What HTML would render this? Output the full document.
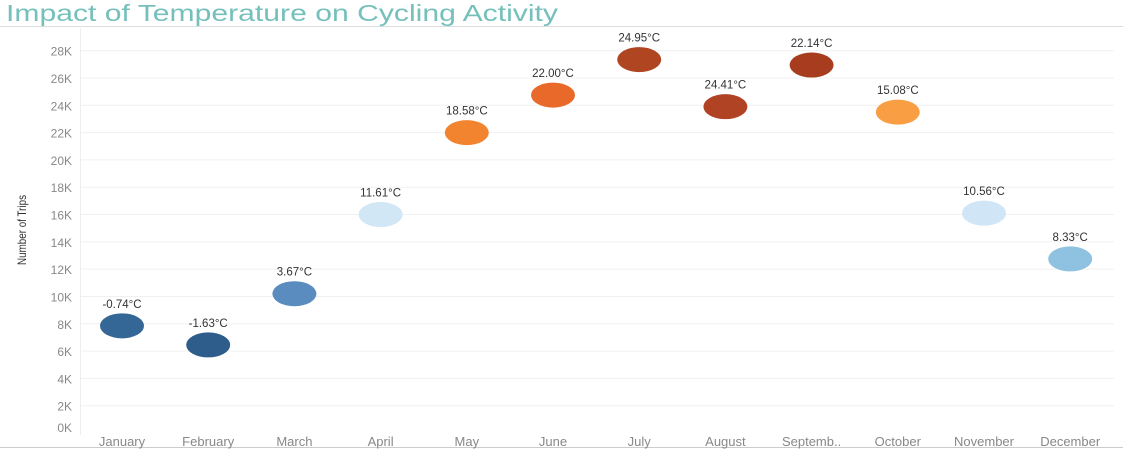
<!DOCTYPE html>
<html><head><meta charset="utf-8"><style>
body{margin:0;background:#fff;font-family:"Liberation Sans",sans-serif;}
#wrap{position:relative;width:1123px;height:452px;overflow:hidden}
</style></head><body>
<div id="wrap">
<svg id="chart" width="1123" height="452">
<text x="6" y="21" font-size="23" fill="#76c0bc" textLength="552" lengthAdjust="spacingAndGlyphs" font-family="Liberation Sans, sans-serif">Impact of Temperature on Cycling Activity</text>
<line x1="0" y1="26.5" x2="1123" y2="26.5" stroke="#ddd"/>
<line x1="0" y1="447.5" x2="1123" y2="447.5" stroke="#ccc"/>
<line x1="80.5" y1="28" x2="80.5" y2="435" stroke="#eee"/>
<text transform="translate(26,230) rotate(-90)" text-anchor="middle" font-size="12" fill="#333" textLength="70" lengthAdjust="spacingAndGlyphs">Number of Trips</text>
<g id="grid"></g><g id="marks"></g>
</svg>
</div>
<script>
const months=["January","February","March","April","May","June","July","August","Septemb..","October","November","December"];
const trips=[7850,6450,10200,16000,22000,24750,27350,23900,26950,23500,16100,12750];
const temps=["-0.74°C","-1.63°C","3.67°C","11.61°C","18.58°C","22.00°C","24.95°C","24.41°C","22.14°C","15.08°C","10.56°C","8.33°C"];
const colors=["#356796","#2e5d8b","#5a8cbf","#d2e7f6","#f2842f","#e8692a","#b04522","#b04324","#a83c1f","#fa9e44","#d0e6f6","#8fc1e1"];
const ticks=[0,2000,4000,6000,8000,10000,12000,14000,16000,18000,20000,22000,24000,26000,28000];
const NS="http://www.w3.org/2000/svg";
const y=v=>433-v*0.013654;
const x=i=>122+i*86.2;
const g=document.getElementById('grid'),m=document.getElementById('marks');
function mk(t,a,p){const e=document.createElementNS(NS,t);for(const k in a)e.setAttribute(k,a[k]);p.appendChild(e);return e;}
ticks.forEach(t=>{
 if(t>0){const l=mk('line',{x1:81,x2:1114,y1:y(t),y2:y(t),stroke:'#f0f0f0'},g);
 
 }
 const tx=mk('text',{x:72,y:(t===0?427:y(t))+5,'text-anchor':'end','font-size':12,fill:'#888'},g);
 tx.textContent=(t/1000)+'K';
 
 
});
months.forEach((mo,i)=>{
 const tx=mk('text',{x:x(i),y:446,'text-anchor':'middle','font-size':13,fill:'#888'},g);
 tx.textContent=mo;
 
 
 const e=mk('ellipse',{cx:x(i),cy:y(trips[i]),rx:22,ry:12.5,fill:colors[i]},m);
 
 
 const lb=mk('text',{x:x(i),y:y(trips[i])-18,'text-anchor':'middle','font-size':11.5,fill:'#333'},m);
 lb.textContent=temps[i];
 
 
});
</script>
</body></html>
